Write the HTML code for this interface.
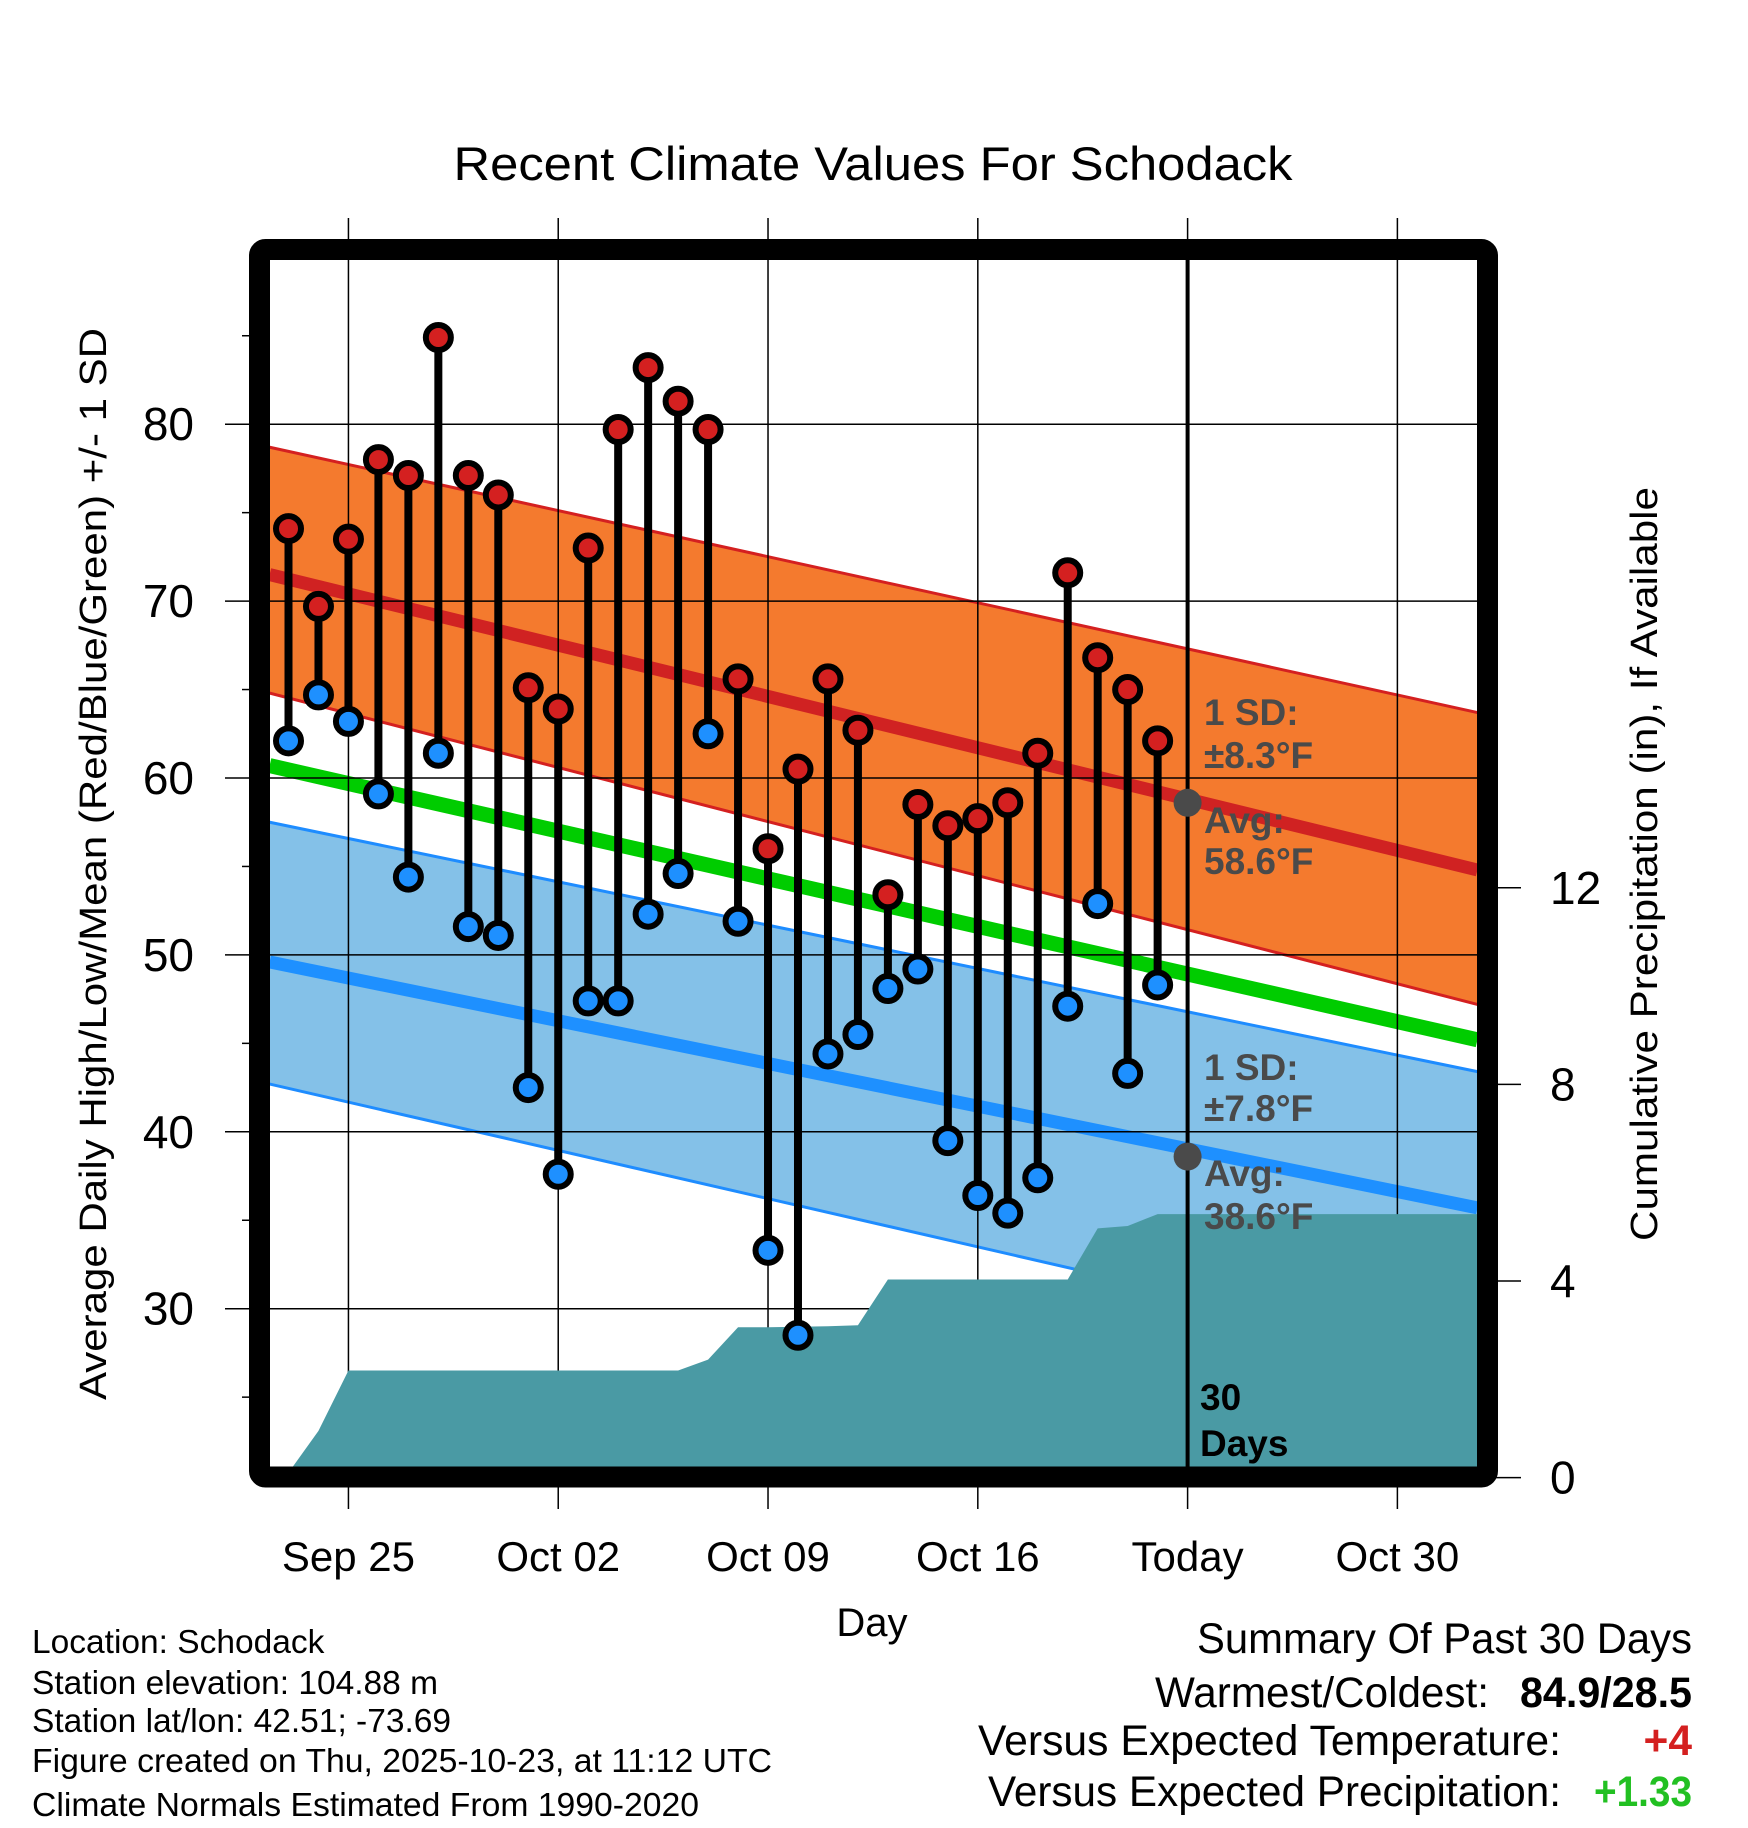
<!DOCTYPE html>
<html><head><meta charset="utf-8"><style>
html,body{margin:0;padding:0;background:#fff;}
svg{display:block;font-family:"Liberation Sans",sans-serif;}
</style></head><body>
<svg id="chart" width="1748" height="1828" viewBox="0 0 1748 1828" xmlns="http://www.w3.org/2000/svg">
<defs><clipPath id="plotclip"><rect x="270" y="260" width="1208" height="1208"/></clipPath></defs>
<g id="bands" clip-path="url(#plotclip)"></g>
<g id="grid"></g>
<g id="precip" clip-path="url(#plotclip)"></g>
<g id="marks" clip-path="url(#plotclip)"></g>
<g id="axes"></g>
<text x="873" y="180" font-size="47" text-anchor="middle" textLength="839" lengthAdjust="spacingAndGlyphs">Recent Climate Values For Schodack</text>
<text transform="translate(106,864) rotate(-90)" font-size="38" text-anchor="middle" textLength="1072" lengthAdjust="spacingAndGlyphs">Average Daily High/Low/Mean (Red/Blue/Green) +/- 1 SD</text>
<text transform="translate(1657,864) rotate(-90)" font-size="38" text-anchor="middle" textLength="754" lengthAdjust="spacingAndGlyphs">Cumulative Precipitation (in), If Available</text>
<text x="872" y="1636" font-size="40" text-anchor="middle">Day</text>
<g font-size="33.5">
<text x="32" y="1653">Location: Schodack</text>
<text x="32" y="1694">Station elevation: 104.88 m</text>
<text x="32" y="1732">Station lat/lon: 42.51; -73.69</text>
<text x="32" y="1772" textLength="740" lengthAdjust="spacingAndGlyphs">Figure created on Thu, 2025-10-23, at 11:12 UTC</text>
<text x="32" y="1816" textLength="667" lengthAdjust="spacingAndGlyphs">Climate Normals Estimated From 1990-2020</text>
</g>
<g font-size="42.5">
<text x="1692" y="1653" text-anchor="end" textLength="495" lengthAdjust="spacingAndGlyphs">Summary Of Past 30 Days</text>
<text x="1489" y="1707" text-anchor="end" textLength="334" lengthAdjust="spacingAndGlyphs">Warmest/Coldest:</text>
<text x="1692" y="1707" text-anchor="end" font-weight="bold" textLength="172" lengthAdjust="spacingAndGlyphs">84.9/28.5</text>
<text x="1561" y="1755" text-anchor="end" textLength="583" lengthAdjust="spacingAndGlyphs">Versus Expected Temperature:</text>
<text x="1692" y="1755" text-anchor="end" font-weight="bold" fill="#d42020">+4</text>
<text x="1561" y="1806" text-anchor="end" textLength="573" lengthAdjust="spacingAndGlyphs">Versus Expected Precipitation:</text>
<text x="1692" y="1806" text-anchor="end" font-weight="bold" fill="#22c022" textLength="98" lengthAdjust="spacingAndGlyphs">+1.33</text>
</g>
</svg>
<script>
// day index 0 = Sep 23
const highs=[74.1,69.7,73.5,78.0,77.1,84.9,77.1,76.0,65.1,63.9,73.0,79.7,83.2,81.3,79.7,65.6,56.0,60.5,65.6,62.7,53.4,58.5,57.3,57.7,58.6,61.4,71.6,66.8,65.0,62.1];
const lows=[62.1,64.7,63.2,59.1,54.4,61.4,51.6,51.1,42.5,37.6,47.4,47.4,52.3,54.6,62.5,51.9,33.3,28.5,44.4,45.5,48.1,49.2,39.5,36.4,35.4,37.4,47.1,52.9,43.3,48.3];
const precip=[0.1,0.95,2.18,2.18,2.18,2.18,2.18,2.18,2.18,2.18,2.18,2.18,2.18,2.18,2.4,3.06,3.06,3.07,3.08,3.1,4.03,4.03,4.03,4.03,4.03,4.03,4.03,5.07,5.12,5.36];
// normals at plot left edge and right edge (day indices)
const normDays=[-0.63,39.67];
const highAvg=[71.5,54.8];
const highUpper=[78.7,63.7];
const highLower=[64.8,47.2];
const meanAvg=[60.7,45.2];
const lowAvg=[49.6,35.7];
const lowUpper=[57.5,43.4];
const lowLower=[42.7,27.0];
const xTickDays=[2,9,16,23,30,37];
const xTickLabels=["Sep 25","Oct 02","Oct 09","Oct 16","Today","Oct 30"];
const yTicks=[30,40,50,60,70,80];
const yMinor=[25,35,45,55,65,75,85];
const y2Ticks=[0,4,8,12];
const todayDay=30, todayHigh=58.6, todayLow=38.6;

const NS="http://www.w3.org/2000/svg";
const X=d=>288.5+d*29.97;
const Y=t=>424.2+(80-t)*17.69;
const Y2=p=>1477.6-p*49.15;
function mk(parent,tag,attrs){const e=document.createElementNS(NS,tag);for(const k in attrs)e.setAttribute(k,attrs[k]);document.getElementById(parent).appendChild(e);return e;}
const bandPts=(up,lo)=>normDays.map((d,i)=>X(d)+","+Y(up[i])).concat(normDays.slice().reverse().map((d,j)=>{const i=normDays.length-1-j;return X(d)+","+Y(lo[i]);})).join(" ");
const linePts=a=>normDays.map((d,i)=>X(d)+","+Y(a[i])).join(" ");

let e;
e=mk('bands','polygon',{points:bandPts(highUpper,highLower),fill:'#f47a2e'});

e=mk('bands','polygon',{points:bandPts(lowUpper,lowLower),fill:'#84c1e8'});

[[highUpper,'#d42020'],[highLower,'#d42020'],[lowUpper,'#1e8cff'],[lowLower,'#1e8cff']].forEach(([a,c])=>{
 e=mk('bands','polyline',{points:linePts(a),stroke:c,'stroke-width':3,fill:'none'});
 
});
e=mk('bands','polyline',{points:linePts(highAvg),stroke:'#d02222','stroke-width':13,fill:'none'});

e=mk('bands','polyline',{points:linePts(meanAvg),stroke:'#00cc00','stroke-width':15,fill:'none'});

e=mk('bands','polyline',{points:linePts(lowAvg),stroke:'#1e90ff','stroke-width':13,fill:'none'});


// grid
xTickDays.forEach((d,i)=>{
 e=mk('grid','line',{x1:X(d),x2:X(d),y1:218,y2:1509,stroke:'#000','stroke-width':1.5});
 
 e=mk('axes','text',{x:X(d),y:1571,'font-size':42,'text-anchor':'middle'});
 e.textContent=xTickLabels[i];
 
});
yTicks.forEach(t=>{
 e=mk('grid','line',{x1:225,x2:1478,y1:Y(t),y2:Y(t),stroke:'#000','stroke-width':1.5});
 
 e=mk('axes','text',{x:194,y:Y(t)+16,'font-size':46,'text-anchor':'end'});
 e.textContent=t;
 
});
yMinor.forEach(t=>{
 e=mk('axes','line',{x1:242,x2:252,y1:Y(t),y2:Y(t),stroke:'#000','stroke-width':1.5});
 
});
y2Ticks.forEach(p=>{
 e=mk('axes','line',{x1:1496,x2:1521,y1:Y2(p),y2:Y2(p),stroke:'#000','stroke-width':1.5});
 
 e=mk('axes','text',{x:1550,y:Y2(p)+16,'font-size':46});
 e.textContent=p;
 
});

// precip area
let pts=[X(0)+","+1480];
precip.forEach((p,i)=>pts.push(X(i)+","+Y2(p)));
pts.push("1480,"+Y2(precip[precip.length-1]));
pts.push("1480,1480");
e=mk('precip','polygon',{points:pts.join(" "),fill:'#4a9aa4'});


// today line
e=mk('marks','line',{x1:X(todayDay),x2:X(todayDay),y1:255,y2:1470,stroke:'#000','stroke-width':4});


// stems
highs.forEach((h,i)=>{
 e=mk('marks','line',{x1:X(i),x2:X(i),y1:Y(h),y2:Y(lows[i]),stroke:'#000','stroke-width':8});
 
});
highs.forEach((h,i)=>{
 e=mk('marks','circle',{cx:X(i),cy:Y(h),r:12.5,fill:'#d42020',stroke:'#000','stroke-width':6});
 
 e=mk('marks','circle',{cx:X(i),cy:Y(lows[i]),r:12.5,fill:'#1e90ff',stroke:'#000','stroke-width':6});
 
});
[todayHigh,todayLow].forEach(t=>{
 e=mk('marks','circle',{cx:X(todayDay),cy:Y(t),r:14,fill:'#4a4a4a'});
 
});
const ann=[["1 SD:",725],["±8.3°F",768],["Avg:",833],[todayHigh+"°F",874],["1 SD:",1080],["±7.8°F",1121],["Avg:",1186],[todayLow+"°F",1229]];
ann.forEach(([s,y])=>{
 e=mk('marks','text',{x:1204,y:y,'font-size':37,'font-weight':'bold',fill:'#4a4a4a'});
 e.textContent=s;
 
});
[["30",1410],["Days",1456]].forEach(([s,y])=>{
 e=mk('marks','text',{x:1200,y:y,'font-size':37,'font-weight':'bold',fill:'#000'});
 e.textContent=s;
 
});

// frame
e=mk('axes','rect',{x:259.5,y:249.5,width:1228,height:1227.5,rx:6,fill:'none',stroke:'#000','stroke-width':21});

</script>
</body></html>
